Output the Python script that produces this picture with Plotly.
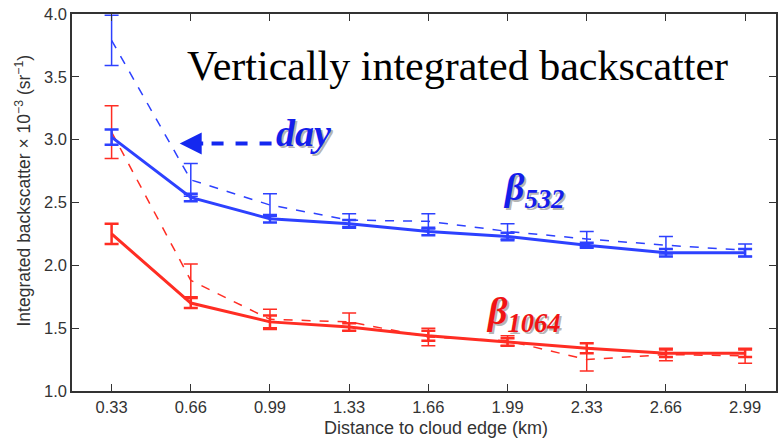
import plotly.graph_objects as go

dist_labels = ["0.33", "0.66", "0.99", "1.33", "1.66", "1.99", "2.33", "2.66", "2.99"]
b532_solid = [3.02, 2.54, 2.37, 2.33, 2.27, 2.23, 2.16, 2.10, 2.10]
b532_solid_err = [0.06, 0.03, 0.03, 0.03, 0.03, 0.03, 0.02, 0.03, 0.03]
b532_dash = [3.79, 2.68, 2.48, 2.36, 2.35, 2.27, 2.21, 2.16, 2.12]
b532_dash_err = [0.20, 0.13, 0.09, 0.05, 0.06, 0.06, 0.06, 0.07, 0.05]
b1064_solid = [2.25, 1.70, 1.55, 1.51, 1.44, 1.39, 1.34, 1.30, 1.30]
b1064_solid_err = [0.08, 0.04, 0.05, 0.03, 0.04, 0.03, 0.04, 0.03, 0.03]
b1064_dash = [3.06, 1.88, 1.57, 1.55, 1.43, 1.40, 1.25, 1.29, 1.28]
b1064_dash_err = [0.21, 0.13, 0.08, 0.07, 0.07, 0.04, 0.09, 0.05, 0.06]

BLUE = "rgb(45,65,255)"
RED = "rgb(255,45,35)"
xs = list(range(len(dist_labels)))

fig = go.Figure()
def add(y, err, color, dash, w, ew):
    fig.add_trace(go.Scatter(
        x=xs, y=y, mode="lines",
        line=dict(color=color, width=w, dash=dash),
        error_y=dict(type="data", array=err, visible=True, color=color, thickness=ew, width=7),
        showlegend=False))

add(b532_dash, b532_dash_err, BLUE, "dash", 1.5, 1.5)
add(b1064_dash, b1064_dash_err, RED, "dash", 1.5, 1.5)
add(b532_solid, b532_solid_err, BLUE, "solid", 3, 2.5)
add(b1064_solid, b1064_solid_err, RED, "solid", 3, 2.5)

serif = "Liberation Serif, Times New Roman, serif"
sans = "Liberation Sans, Arial, sans-serif"

# dashed arrow shaft
fig.add_shape(type="line", x0=2.02, x1=1.1, y0=2.97, y1=2.97, xref="x", yref="y",
              line=dict(color="rgb(20,40,240)", width=4, dash="dash"))
fig.add_annotation(x=0.86, y=2.97, xref="x", yref="y", ax=25, ay=0, text="",
                   showarrow=True, arrowhead=2, arrowsize=1.1, arrowwidth=4,
                   arrowcolor="rgb(20,40,240)")

def label(text, x, y, color, size, xref="x", yref="y"):
    fig.add_annotation(x=x, y=y, xref=xref, yref=yref, text=text, showarrow=False,
                       xanchor="center", yanchor="middle",
                       font=dict(family=serif, size=size, color="rgba(90,90,90,0.45)"),
                       xshift=2, yshift=-2)
    fig.add_annotation(x=x, y=y, xref=xref, yref=yref, text=text, showarrow=False,
                       xanchor="center", yanchor="middle",
                       font=dict(family=serif, size=size, color=color))

fig.add_annotation(x=0.547, y=0.862, xref="paper", yref="paper",
                   xanchor="center", yanchor="middle",
                   text="Vertically integrated backscatter", showarrow=False,
                   font=dict(family=serif, size=42, color="black"))
label("<b><i>day</i></b>", 2.42, 3.05, "rgb(20,30,235)", 38)
label("<b><i>β<sub>532</sub></i></b>", 5.33, 2.6, "rgb(20,30,235)", 38)
label("<b><i>β<sub>1064</sub></i></b>", 5.2, 1.61, "rgb(240,20,20)", 38)

fig.add_annotation(x=0.517, y=-0.098, xref="paper", yref="paper",
                   xanchor="center", yanchor="middle",
                   text="Distance to cloud edge (km)", showarrow=False,
                   font=dict(family=sans, size=18, color="#333"))
fig.add_annotation(x=-0.070, y=0.531, xref="paper", yref="paper",
                   xanchor="center", yanchor="middle", textangle=-90,
                   text="Integrated backscatter × 10<sup>−3</sup> (sr<sup>−1</sup>)", showarrow=False,
                   font=dict(family=sans, size=17.5, color="#333"))

axis_common = dict(showline=True, linecolor="#333", linewidth=1.5, mirror="ticks",
                   ticks="inside", ticklen=7, tickwidth=1.3, tickcolor="#333",
                   showgrid=False, zeroline=False,
                   tickfont=dict(family=sans, size=16.5, color="#333"))

fig.update_xaxes(range=[-0.5, 8.39], tickmode="array", tickvals=xs, ticktext=dist_labels,
                 **axis_common)
fig.update_yaxes(range=[1.0, 4.0], tickvals=[1.0, 1.5, 2.0, 2.5, 3.0, 3.5, 4.0],
                 tickformat=".1f", **axis_common)

fig.update_layout(width=781, height=440, margin=dict(l=72, r=3, t=14, b=49),
                  plot_bgcolor="white", paper_bgcolor="white")

fig.write_html("out.html")
